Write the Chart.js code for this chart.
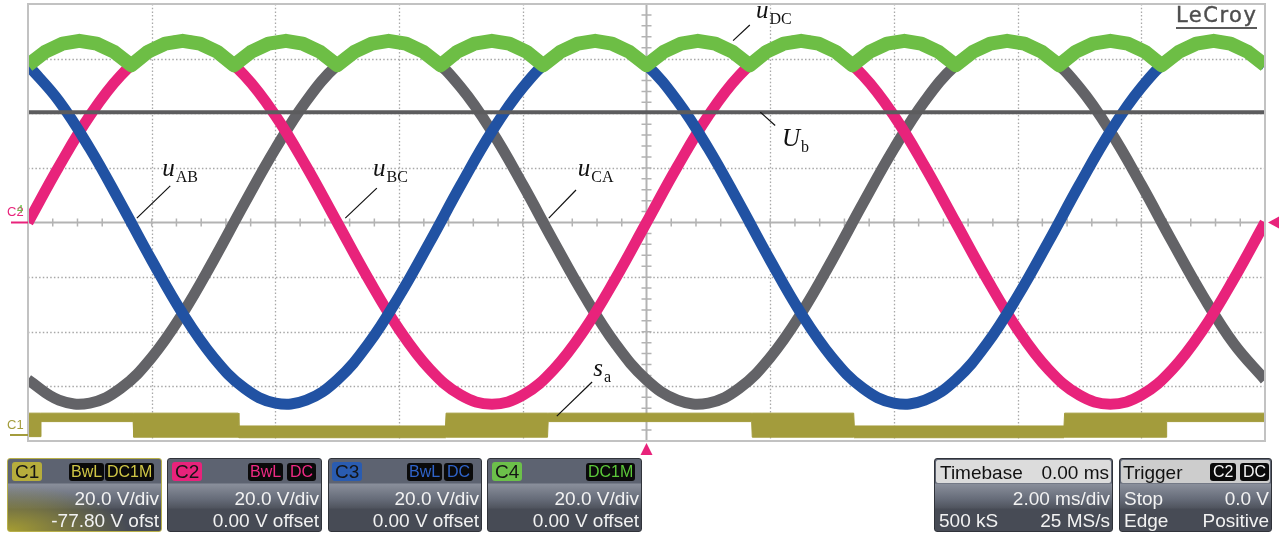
<!DOCTYPE html>
<html><head><meta charset="utf-8"><title>LeCroy scope capture</title>
<script src="https://cdn.jsdelivr.net/npm/chart.js@4.4.1/dist/chart.umd.min.js"></script>
<style>
html,body{margin:0;padding:0;background:#fff;}
#wrap{position:relative;width:1282px;height:535px;overflow:hidden;font-family:"Liberation Sans",Arial,sans-serif;}
#c{position:absolute;left:0;top:0;display:block;}
.lbl{position:absolute;font-family:"Liberation Serif","Times New Roman",serif;font-size:25px;line-height:25px;color:#111;white-space:nowrap;}
.lbl i{font-style:italic;}
.lbl sub{font-size:16px;vertical-align:baseline;position:relative;top:6px;margin-left:1px;font-style:normal;}
.mk{position:absolute;font-size:13px;line-height:13px;white-space:nowrap;}
#logo{position:absolute;left:1176px;top:4px;font-family:"DejaVu Sans",sans-serif;font-size:21px;line-height:22px;letter-spacing:1.5px;color:#4e4e4e;-webkit-text-stroke:0.4px #4e4e4e;border-bottom:2px solid #5b5b5b;padding-bottom:1px;}
.panel{position:absolute;top:458px;height:74px;box-sizing:border-box;border:1px solid #30333a;border-radius:3px;overflow:hidden;color:#f2f2f2;font-size:19px;line-height:19px;
background:linear-gradient(to bottom,#5d6371 0,#5d6371 24px,#8a8f9b 25px,#666c79 40px,#50545e 49px,#474b55 50px,#474b55 74px);}
.panel div{position:absolute;white-space:nowrap;}
.badge{top:3px;height:19px;padding:0 3px;border-radius:3px;color:#151515;}
.tag{top:4px;height:18px;line-height:18px;font-size:16px;padding:0 2px;border-radius:3px;background:#0a0a0a;}
.r2{right:2px;top:30px;}
.r3{right:2px;top:52px;}
.l2{left:4px;top:30px;}
.l3{left:4px;top:52px;}
.hdr{left:1px;right:1px;top:1px;height:23px;border-radius:2px;color:#111;}
</style>
</head>
<body>
<div id="wrap">
<canvas id="c" width="1282" height="535"></canvas>

<div class="lbl" id="lAB"><i>u</i><sub>AB</sub></div>
<div class="lbl" id="lBC"><i>u</i><sub>BC</sub></div>
<div class="lbl" id="lCA"><i>u</i><sub>CA</sub></div>
<div class="lbl" id="lDC"><i>u</i><sub>DC</sub></div>
<div class="lbl" id="lUb"><i>U</i><sub>b</sub></div>
<div class="lbl" id="lSa"><i>s</i><sub>a</sub></div>

<div class="mk" style="left:7px;top:205px;color:#e8237b;">C2</div>
<div class="mk" style="left:17px;top:203px;color:#6cc04a;font-size:11px;">4</div>
<div class="mk" style="left:7px;top:418px;color:#a39c3c;">C1</div>
<div id="logo">LeCroy</div>

<div class="panel" style="left:7px;width:155px;border-color:#b8b04a;background:radial-gradient(ellipse 120px 45px at 0% 100%,rgba(176,166,46,0.9) 0%,rgba(176,166,46,0) 100%),linear-gradient(to bottom,#5d6371 0,#5d6371 24px,#8a8f9b 25px,#666c79 40px,#50545e 49px,#474b55 50px,#474b55 74px);">
  <div class="badge" style="left:4px;background:#b6ad3c;">C1</div>
  <div class="tag" style="left:61px;color:#cfc646;">BwL</div>
  <div class="tag" style="left:97px;color:#cfc646;">DC1M</div>
  <div class="r2">20.0 V/div</div>
  <div class="r3">-77.80 V ofst</div>
</div>
<div class="panel" style="left:167px;width:155px;">
  <div class="badge" style="left:4px;background:#e8237b;">C2</div>
  <div class="tag" style="left:80px;color:#ee2a84;">BwL</div>
  <div class="tag" style="left:119px;color:#ee2a84;padding:0 3px;">DC</div>
  <div class="r2">20.0 V/div</div>
  <div class="r3">0.00 V offset</div>
</div>
<div class="panel" style="left:328px;width:154px;">
  <div class="badge" style="left:3px;background:#2a5cb0;">C3</div>
  <div class="tag" style="left:78px;color:#2f63c8;">BwL</div>
  <div class="tag" style="left:115px;color:#2f63c8;padding:0 3px;">DC</div>
  <div class="r2">20.0 V/div</div>
  <div class="r3">0.00 V offset</div>
</div>
<div class="panel" style="left:487px;width:155px;">
  <div class="badge" style="left:4px;background:#6cc04a;">C4</div>
  <div class="tag" style="left:98px;color:#5cc83a;">DC1M</div>
  <div class="r2">20.0 V/div</div>
  <div class="r3">0.00 V offset</div>
</div>
<div class="panel" style="left:934px;width:179px;">
  <div class="hdr" style="background:#dcdcdc;"></div>
  <div style="left:5px;top:4px;color:#111;">Timebase</div>
  <div style="right:3px;top:4px;color:#111;">0.00 ms</div>
  <div class="r2">2.00 ms/div</div>
  <div class="l3">500 kS</div>
  <div class="r3">25 MS/s</div>
</div>
<div class="panel" style="left:1119px;width:153px;">
  <div class="hdr" style="background:#cdcdcd;"></div>
  <div style="left:3px;top:4px;color:#111;">Trigger</div>
  <div class="tag" style="left:90px;color:#f4f4f4;padding:0 3px;">C2</div>
  <div class="tag" style="left:120px;color:#f4f4f4;padding:0 3px;">DC</div>
  <div class="l2">Stop</div>
  <div class="r2">0.0 V</div>
  <div class="l3">Edge</div>
  <div class="r3">Positive</div>
</div>
</div>

<script>
// ---- axis ticks (divisions) ----
const gridTimes = [-10,-8,-6,-4,-2,0,2,4,6,8,10];      // ms (2 ms/div)
const gridVolts = [-80,-60,-40,-20,0,20,40,60,80];     // V (20 V/div)

// ---- sine traces, sampled every 0.5 ms ----
const tTimes = [-10,-9.5,-9,-8.5,-8,-7.5,-7,-6.5,-6,-5.5,-5,-4.5,-4,-3.5,-3,-2.5,-2,-1.5,-1,-0.5,0,
                0.5,1,1.5,2,2.5,3,3.5,4,4.5,5,5.5,6,6.5,7,7.5,8,8.5,9,9.5,10];
const uBC = [0,20.5,39.1,53.8,63.2,66.5,63.2,53.8,39.1,20.5,0,-20.5,-39.1,-53.8,-63.2,-66.5,-63.2,-53.8,-39.1,-20.5,0,
             20.5,39.1,53.8,63.2,66.5,63.2,53.8,39.1,20.5,0,-20.5,-39.1,-53.8,-63.2,-66.5,-63.2,-53.8,-39.1,-20.5,0];
const uAB = [57.6,44.5,27.1,7.0,-13.8,-33.3,-49.4,-60.7,-66.1,-65.0,-57.6,-44.5,-27.0,-7.0,13.8,33.3,49.4,60.7,66.1,65.0,57.6,
             44.5,27.1,7.0,-13.8,-33.3,-49.4,-60.7,-66.1,-65.0,-57.6,-44.5,-27.0,-7.0,13.8,33.3,49.4,60.7,66.1,65.0,57.6];
const uCA = [-57.6,-65.0,-66.1,-60.7,-49.4,-33.3,-13.8,7.0,27.0,44.5,57.6,65.0,66.1,60.7,49.4,33.3,13.8,-7.0,-27.0,-44.5,-57.6,
             -65.0,-66.1,-60.7,-49.4,-33.3,-13.8,7.0,27.0,44.5,57.6,65.0,66.1,60.7,49.4,33.3,13.8,-7.0,-27.0,-44.5,-57.6];

// ---- rectified DC envelope ----
const dcTimes = [-10.00,-9.72,-9.44,-9.17,-8.89,-8.61,-8.33,-8.06,-7.78,-7.50,-7.22,-6.94,-6.67,-6.39,-6.11,-5.83,-5.56,-5.28,
                 -5.00,-4.72,-4.44,-4.17,-3.89,-3.61,-3.33,-3.06,-2.78,-2.50,-2.22,-1.94,-1.67,-1.39,-1.11,-0.83,-0.56,-0.28,
                 0.00,0.28,0.56,0.83,1.11,1.39,1.67,1.94,2.22,2.50,2.78,3.06,3.33,3.61,3.89,4.17,4.44,4.72,
                 5.00,5.28,5.56,5.83,6.11,6.39,6.67,6.94,7.22,7.50,7.78,8.06,8.33,8.61,8.89,9.17,9.44,9.72,10.00];
const uDC = [57.6,62.5,65.5,66.5,65.5,62.5, 57.6,62.5,65.5,66.5,65.5,62.5, 57.6,62.5,65.5,66.5,65.5,62.5,
             57.6,62.5,65.5,66.5,65.5,62.5, 57.6,62.5,65.5,66.5,65.5,62.5, 57.6,62.5,65.5,66.5,65.5,62.5,
             57.6,62.5,65.5,66.5,65.5,62.5, 57.6,62.5,65.5,66.5,65.5,62.5, 57.6,62.5,65.5,66.5,65.5,62.5,
             57.6,62.5,65.5,66.5,65.5,62.5, 57.6,62.5,65.5,66.5,65.5,62.5, 57.6,62.5,65.5,66.5,65.5,62.5, 57.6];

// ---- threshold Ub ----
const ubTimes = [-10,10];
const ubValues = [40.4,40.4];

// ---- switching signal s_a (C1, displayed with -77.8 V offset): band edges ----
const saTimes = [-10,-9.8, -9.79,-8.3, -8.29,-6.6, -6.59,-3.25, -3.24,-1.6, -1.59,1.7, 1.71,3.35, 3.36,6.75, 6.76,8.4, 8.41,10];
const saUpper = [-69.8,-69.8, -69.8,-69.8, -69.8,-69.8, -74.5,-74.5, -69.8,-69.8, -69.8,-69.8, -69.8,-69.8, -74.5,-74.5, -69.8,-69.8, -69.8,-69.8];
const saLower = [-78.4,-78.4, -72.9,-72.9, -78.6,-78.6, -78.8,-78.8, -78.6,-78.6, -72.9,-72.9, -78.6,-78.6, -78.8,-78.8, -78.6,-78.6, -72.9,-72.9];

const C1_OFFSET = -77.8;

// annotation anchors in data units (ms, V)
const notes = [
  {id:'lAB', t:-7.83, v:17.0, from:[-7.70,13.4], to:[-8.24,1.6]},
  {id:'lBC', t:-4.42, v:17.0, from:[-4.36,12.6], to:[-4.87,1.6]},
  {id:'lCA', t:-1.11, v:17.0, from:[-1.14,11.9], to:[-1.58,1.6]},
  {id:'lDC', t:1.77,  v:75.0, from:[1.67,72.3],  to:[1.40,66.6]},
  {id:'lUb', t:2.19,  v:28.0, from:[2.08,35.5],  to:[1.84,40.4]},
  {id:'lSa', t:-0.86, v:-56.2, from:[-0.88,-58.4], to:[-1.45,-70.9]}
];

const pts = (xs, ys) => xs.map((x,i)=>({x:x, y:ys[i]}));
const OLIVE = '#a39c3c';

const scopePlugin = {
  id:'scope',
  beforeDatasetsDraw(chart){
    const {ctx, chartArea:a, scales:{x,y}} = chart;
    ctx.save();
    ctx.strokeStyle = '#a8a8a8'; ctx.lineWidth = 1.3; ctx.setLineDash([1.5,2.2]);
    gridTimes.forEach(t=>{ if(t===0||t===-10||t===10) return;
      const px = Math.round(x.getPixelForValue(t))+0.5;
      ctx.beginPath(); ctx.moveTo(px,a.top); ctx.lineTo(px,a.bottom); ctx.stroke(); });
    gridVolts.forEach(v=>{ if(v===0||v===-80||v===80) return;
      const py = Math.round(y.getPixelForValue(v))+0.5;
      ctx.beginPath(); ctx.moveTo(a.left,py); ctx.lineTo(a.right,py); ctx.stroke(); });
    ctx.setLineDash([]);
    const x0 = x.getPixelForValue(0), y0 = y.getPixelForValue(0);
    ctx.strokeStyle = '#b3b3b3'; ctx.lineWidth = 2;
    ctx.beginPath(); ctx.moveTo(x0,a.top); ctx.lineTo(x0,a.bottom); ctx.moveTo(a.left,y0); ctx.lineTo(a.right,y0); ctx.stroke();
    ctx.lineWidth = 1.5;
    ctx.beginPath();
    for(let k=-25;k<=25;k++){ const px = x.getPixelForValue(k*0.4); ctx.moveTo(px,y0-4); ctx.lineTo(px,y0+4); }
    for(let k=-20;k<=20;k++){ const py = y.getPixelForValue(k*4); ctx.moveTo(x0-5,py); ctx.lineTo(x0+5,py); }
    ctx.stroke();
    ctx.restore();
  },
  afterDatasetsDraw(chart){
    const {ctx, chartArea:a, scales:{x,y}} = chart;
    ctx.save();
    ctx.strokeStyle = '#c2c2c2'; ctx.lineWidth = 2;
    ctx.strokeRect(a.left, a.top, a.right-a.left, a.bottom-a.top);
    ctx.strokeStyle = '#111'; ctx.lineWidth = 1.2;
    notes.forEach(n=>{
      ctx.beginPath();
      ctx.moveTo(x.getPixelForValue(n.from[0]), y.getPixelForValue(n.from[1]));
      ctx.lineTo(x.getPixelForValue(n.to[0]), y.getPixelForValue(n.to[1]));
      ctx.stroke();
    });
    const y0 = y.getPixelForValue(0), yc1 = y.getPixelForValue(C1_OFFSET);
    ctx.lineWidth = 2;
    ctx.strokeStyle = '#e8237b';
    ctx.beginPath(); ctx.moveTo(11,y0); ctx.lineTo(a.left,y0); ctx.stroke();
    ctx.strokeStyle = OLIVE;
    ctx.beginPath(); ctx.moveTo(10,yc1); ctx.lineTo(a.left,yc1); ctx.stroke();
    ctx.fillStyle = '#e8237b';
    ctx.beginPath(); ctx.moveTo(a.right+3,y0); ctx.lineTo(a.right+14,y0-6); ctx.lineTo(a.right+14,y0+6); ctx.closePath(); ctx.fill();
    const xt = x.getPixelForValue(0);
    ctx.beginPath(); ctx.moveTo(xt,a.bottom+2); ctx.lineTo(xt-6,a.bottom+14); ctx.lineTo(xt+6,a.bottom+14); ctx.closePath(); ctx.fill();
    ctx.restore();
  }
};

const line = (label, data, color, width, order, extra) => Object.assign({
  label, data, borderColor:color, backgroundColor:color, borderWidth:width, order,
  pointRadius:0, fill:false, clip:0, borderCapStyle:'butt', borderJoinStyle:'round'
}, extra||{});

const chart = new Chart(document.getElementById('c'), {
  type:'line',
  data:{ datasets:[
    line('uDC', pts(dcTimes,uDC), '#6dbe45', 14, 1, {tension:0}),
    line('Ub', pts(ubTimes,ubValues), '#5c5c5e', 4, 2, {tension:0}),
    line('uAB', pts(tTimes,uAB), '#2152a3', 11, 3, {tension:0.4}),
    line('uBC', pts(tTimes,uBC), '#e8237b', 11, 4, {tension:0.4}),
    line('uCA', pts(tTimes,uCA), '#636367', 11, 5, {tension:0.4}),
    line('sa_hi', pts(saTimes,saUpper), OLIVE, 1, 6, {tension:0}),
    line('sa_lo', pts(saTimes,saLower), OLIVE, 1, 6, {tension:0, fill:'-1'})
  ]},
  options:{
    responsive:false, animation:false, devicePixelRatio:1, events:[],
    layout:{padding:{left:28, right:17, top:4, bottom:94}},
    scales:{
      x:{type:'linear', min:-10, max:10, display:false},
      y:{type:'linear', min:-80, max:80, display:false}
    },
    plugins:{legend:{display:false}, tooltip:{enabled:false}}
  },
  plugins:[scopePlugin]
});

notes.forEach(n=>{
  const el = document.getElementById(n.id);
  el.style.left = chart.scales.x.getPixelForValue(n.t) + 'px';
  el.style.top = (chart.scales.y.getPixelForValue(n.v) - 21) + 'px';
});
</script>
</body></html>
